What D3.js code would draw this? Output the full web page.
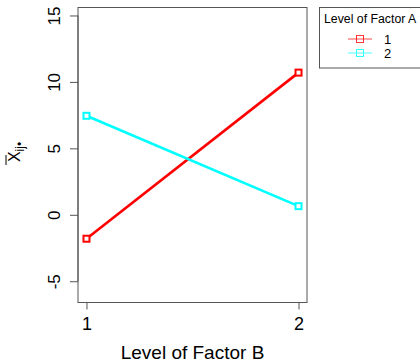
<!DOCTYPE html>
<html>
<head>
<meta charset="utf-8">
<script src="https://cdn.jsdelivr.net/npm/d3@7"></script>
<style>
  html, body { margin: 0; padding: 0; background: #fff; }
  svg { display: block; font-family: "Liberation Sans", Arial, Helvetica, sans-serif; }
</style>
</head>
<body>
<script>
// Cell means for the two-factor interaction plot
const factorBLevels = [1, 2];
const factorALevels = ["1", "2"];
const meansA1 = [-1.8, 10.7];
const meansA2 = [7.45, 0.65];
const seriesColors = ["#ff0000", "#00ffff"];
const yTicks = [-5, 0, 5, 10, 15];
const xTicks = [1, 2];

const W = 420, H = 362;
const box = { left: 78, right: 307, top: 7.5, bottom: 302.5 };

const svg = d3.select("body").append("svg")
  .attr("width", W).attr("height", H);

const x = d3.scaleLinear().domain([0.96, 2.04]).range([box.left, box.right]);
const y = d3.scaleLinear().domain([-6.6, 15.6]).range([box.bottom, box.top]);

// plot frame
svg.append("rect")
  .attr("x", box.left).attr("y", box.top)
  .attr("width", box.right - box.left).attr("height", box.bottom - box.top)
  .attr("fill", "none").attr("stroke", "#555").attr("stroke-width", 1);

// y axis
const yAxis = svg.append("g").attr("transform", `translate(${box.left},0)`)
  .call(d3.axisLeft(y).tickValues(yTicks).tickSize(8).tickFormat(d => d));
yAxis.select(".domain").attr("stroke", "#555")
  .attr("d", `M0,${y(yTicks[yTicks.length - 1])}V${y(yTicks[0])}`);
yAxis.selectAll(".tick line").attr("stroke", "#555");
yAxis.selectAll(".tick text")
  .attr("font-size", 17).attr("fill", "#000")
  .attr("text-anchor", "middle").attr("x", 0).attr("dy", 0)
  .attr("transform", "translate(-18,0) rotate(-90)");

// x axis
const xAxis = svg.append("g").attr("transform", `translate(0,${box.bottom})`)
  .call(d3.axisBottom(x).tickValues(xTicks).tickSize(7).tickFormat(d => d));
xAxis.select(".domain").attr("stroke", "#555")
  .attr("d", `M${x(xTicks[0])},0H${x(xTicks[xTicks.length - 1])}`);
xAxis.selectAll(".tick line").attr("stroke", "#555");
xAxis.selectAll(".tick text")
  .attr("font-size", 18).attr("fill", "#000")
  .attr("y", 27).attr("dy", 0);

// axis titles
svg.append("text")
  .attr("x", (box.left + box.right) / 2).attr("y", 359)
  .attr("text-anchor", "middle").attr("font-size", 19)
  .text("Level of Factor B");

const yLab = svg.append("g").attr("transform", "translate(20,152) rotate(-90)");
const yLabText = yLab.append("text").attr("font-size", 16).attr("text-anchor", "middle");
yLabText.append("tspan").text("X");
yLabText.append("tspan").attr("font-size", 12).attr("dy", 4).text("ij\u2022");
yLab.append("line")
  .attr("x1", -13).attr("x2", -3).attr("y1", -14).attr("y2", -14)
  .attr("stroke", "#000").attr("stroke-width", 1);

// series lines and markers
const series = [meansA1, meansA2].map((vals, i) => ({
  name: factorALevels[i],
  color: seriesColors[i],
  points: factorBLevels.map((b, j) => ({ b, v: vals[j] }))
}));

const line = d3.line().x(d => x(d.b)).y(d => y(d.v));

series.forEach(s => {
  svg.append("path")
    .datum(s.points)
    .attr("d", line)
    .attr("fill", "none").attr("stroke", s.color).attr("stroke-width", 2.6);
  svg.selectAll(null).data(s.points).enter().append("rect")
    .attr("x", d => x(d.b) - 3).attr("y", d => y(d.v) - 3)
    .attr("width", 6).attr("height", 6)
    .attr("fill", "#fff").attr("stroke", s.color).attr("stroke-width", 2);
});

// legend
const lg = svg.append("g");
lg.append("rect")
  .attr("x", 319.5).attr("y", 7.5).attr("width", 110).attr("height", 60.5)
  .attr("fill", "none").attr("stroke", "#555").attr("stroke-width", 1);
lg.append("text")
  .attr("x", 324).attr("y", 23).attr("font-size", 12.3)
  .text("Level of Factor A");
series.forEach((s, i) => {
  const ly = 39 + i * 14;
  lg.append("line")
    .attr("x1", 348).attr("x2", 372).attr("y1", ly).attr("y2", ly)
    .attr("stroke", s.color).attr("stroke-width", 1).attr("opacity", 0.7);
  lg.append("rect")
    .attr("x", 356.5).attr("y", ly - 3.5).attr("width", 7).attr("height", 7)
    .attr("fill", "none").attr("stroke", s.color).attr("stroke-width", 1).attr("opacity", 0.8);
  lg.append("text")
    .attr("x", 384).attr("y", ly + 5).attr("font-size", 13)
    .text(s.name);
});
</script>
</body>
</html>
